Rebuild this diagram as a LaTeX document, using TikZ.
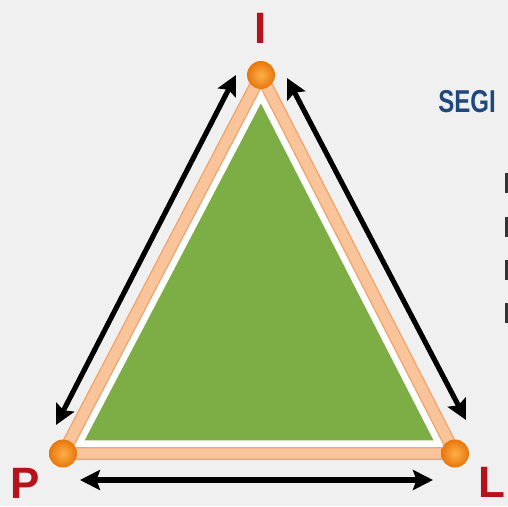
\documentclass[tikz,border=0pt]{standalone}
\usepackage{fontspec}
\setmainfont{Liberation Sans}
\usetikzlibrary{arrows.meta,calc}
\definecolor{bgray}{HTML}{F0F0F0}
\definecolor{peach}{HTML}{F9C49A}
\definecolor{peachedge}{HTML}{EFA56E}
\definecolor{leafgreen}{HTML}{7DAE45}
\definecolor{lblred}{HTML}{B5121B}
\definecolor{titleblue}{HTML}{1F497D}
\definecolor{ballin}{HTML}{FCB04A}
\definecolor{ballout}{HTML}{E8760A}
\tikzset{
  vtx/.style={circle, minimum size=#1, inner sep=0pt, shading=radial,
              inner color=ballin, outer color=ballout},
  vtx/.default=5.6mm,
  twoway/.style={{Stealth[length=4mm,width=4mm,inset=0.7mm]}-{Stealth[length=4mm,width=4mm,inset=0.7mm]},
                 line width=2.9pt},
  corner/.style={font=\fontsize{25}{25}\selectfont\bfseries, text=lblred,
                 inner sep=0pt, anchor=base},
  band/.style={line width=#1, line join=round},
}

\begin{document}
\begin{tikzpicture}
  \fill[bgray] (0,0) rectangle (10.16,10.12);
  \useasboundingbox (0,0) rectangle (10.16,10.12);
  % triangle corners
  \coordinate (T) at (5.22,8.62);
  \coordinate (Pc) at (1.26,1.05);
  \coordinate (Lc) at (9.10,1.05);
  \coordinate (mid) at (5.195,3.436);
  % white ground, peach band, green face
  \fill[white] (T) -- (Pc) -- (Lc) -- cycle;
  \draw[peachedge, band=7.4pt] (T) -- (Pc) -- (Lc) -- cycle;
  \draw[peach, band=5.8pt] (T) -- (Pc) -- (Lc) -- cycle;
  \fill[leafgreen] ($(mid)!0.89!(T)$) -- ($(mid)!0.89!(Pc)$) -- ($(mid)!0.89!(Lc)$) -- cycle;
  % balls
  \node[vtx] (ti) at (T) {};
  \node[vtx] (tp) at (Pc) {};
  \node[vtx] (tl) at (Lc) {};
  % arrows
  \coordinate (ipA) at (4.72,8.62);
  \coordinate (ipB) at (1.12,1.62);
  \coordinate (ilA) at (5.74,8.56);
  \coordinate (ilB) at (9.32,1.72);
  \coordinate (plA) at (1.60,0.52);
  \coordinate (plB) at (8.66,0.52);
  \draw[twoway] (ipA) -- (ipB);
  \draw[twoway] (ilA) -- (ilB);
  \draw[twoway] (plA) -- (plB);
  % labels
  \node[corner] (lI) at (5.22,9.26) {I};
  \node[corner] (lP) at (0.50,0.16) {P};
  \node[corner] (lL) at (9.84,0.17) {L};
  \node[font=\fontsize{18}{18}\selectfont\bfseries, text=titleblue, inner sep=0pt,
        anchor=base west] (ttl) at (8.76,7.88) {\scalebox{0.76}[1]{SEGI}};
  % cut-off marks at the right edge
  \foreach \y in {6.26,5.38,4.52,3.66}
    \fill[black!80] (10.10,\y) rectangle (10.16,\y+0.40);
\end{tikzpicture}
\end{document}
